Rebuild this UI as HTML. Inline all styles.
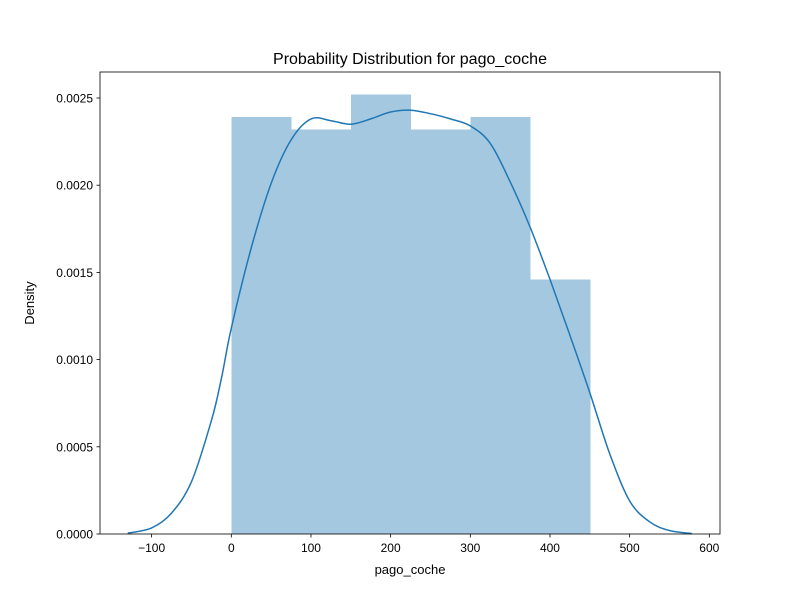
<!DOCTYPE html>
<html><head><meta charset="utf-8"><style>
body{margin:0;background:#fff;}
svg text{font-family:"Liberation Sans","DejaVu Sans",sans-serif;fill:#000;}
</style></head><body>
<svg id="chart" width="800" height="600">
<rect width="800" height="600" fill="#fff"/>
</svg>
<script>
const binEdges=[0,75,150,225,300,375,450];
const binDensity=[0.00239,0.00232,0.00252,0.00232,0.00239,0.00146];
const kdeX=[-130,-100,-75,-50,-25,-12.5,0,25,50,75,100,125,150,175,200,225,250,275,300,325,350,375,400,425,450,475,500,525,550,578];
const kdeY=[0.000005,0.000035,0.00012,0.0003,0.00065,0.00089,0.00118,0.00164,0.00201,0.00226,0.00238,0.00237,0.00235,0.00238,0.00242,0.00243,0.00241,0.00238,0.00234,0.00224,0.00202,0.00176,0.00146,0.00114,0.00081,0.00046,0.00019,0.00007,0.00002,0.000003];
const xTicks=[-100,0,100,200,300,400,500,600];
const yTicks=[0,0.0005,0.001,0.0015,0.002,0.0025];
const yTickLabels=["0.0000","0.0005","0.0010","0.0015","0.0020","0.0025"];
const L=100,R=720,T=72,B=534;
const xs=v=>231.3+v*0.7967;
const ys=v=>534-v*174400;
const svg=document.getElementById('chart');
const NS='http://www.w3.org/2000/svg';
function mk(t,a){const e=document.createElementNS(NS,t);for(const k in a)e.setAttribute(k,a[k]);svg.appendChild(e);return e;}
for(let i=0;i<binDensity.length;i++){
 const r=mk('rect',{x:xs(binEdges[i]),y:ys(binDensity[i]),width:xs(binEdges[i+1])-xs(binEdges[i])+0.5,height:ys(0)-ys(binDensity[i]),fill:'#a5c8e1','shape-rendering':'crispEdges'});
 
 
}
const P=kdeX.map((x,i)=>[xs(x),ys(kdeY[i])]);
let d='M'+P[0][0].toFixed(1)+','+P[0][1].toFixed(1);
for(let i=0;i<P.length-1;i++){
 const p0=P[Math.max(0,i-1)],p1=P[i],p2=P[i+1],p3=P[Math.min(P.length-1,i+2)];
 const c1=[p1[0]+(p2[0]-p0[0])/6,p1[1]+(p2[1]-p0[1])/6];
 const c2=[p2[0]-(p3[0]-p1[0])/6,p2[1]-(p3[1]-p1[1])/6];
 d+='C'+c1.map(v=>v.toFixed(1)).join(',')+' '+c2.map(v=>v.toFixed(1)).join(',')+' '+p2[0].toFixed(1)+','+p2[1].toFixed(1);
}
const p=mk('path',{d:d,fill:'none',stroke:'#1f77b4','stroke-width':1.5,'stroke-linejoin':'round'});


const fr=mk('rect',{x:L,y:T,width:R-L,height:B-T,fill:'none',stroke:'#000','stroke-width':0.8});


xTicks.forEach(v=>{
 mk('line',{x1:xs(v),x2:xs(v),y1:B,y2:B+3.5,stroke:'#000','stroke-width':0.8});
 const t=mk('text',{x:xs(v),y:B+18,'text-anchor':'middle','font-size':12});
 t.textContent=(v<0?'\u2212'+(-v):v);
 
 
});
yTicks.forEach((v,i)=>{
 mk('line',{x1:L-3.5,x2:L,y1:ys(v),y2:ys(v),stroke:'#000','stroke-width':0.8});
 const t=mk('text',{x:L-7,y:ys(v)+4.5,'text-anchor':'end','font-size':12});
 t.textContent=yTickLabels[i];
 
 
});
const xt=mk('text',{x:410,y:574,'text-anchor':'middle','font-size':13});
xt.textContent='pago_coche';


const yt=mk('text',{x:34,y:303,'text-anchor':'middle','font-size':13,transform:'rotate(-90 34 303)'});
yt.textContent='Density';


const tt=mk('text',{x:410,y:64,'text-anchor':'middle','font-size':16});
tt.textContent='Probability Distribution for pago_coche';


</script>
</body></html>
